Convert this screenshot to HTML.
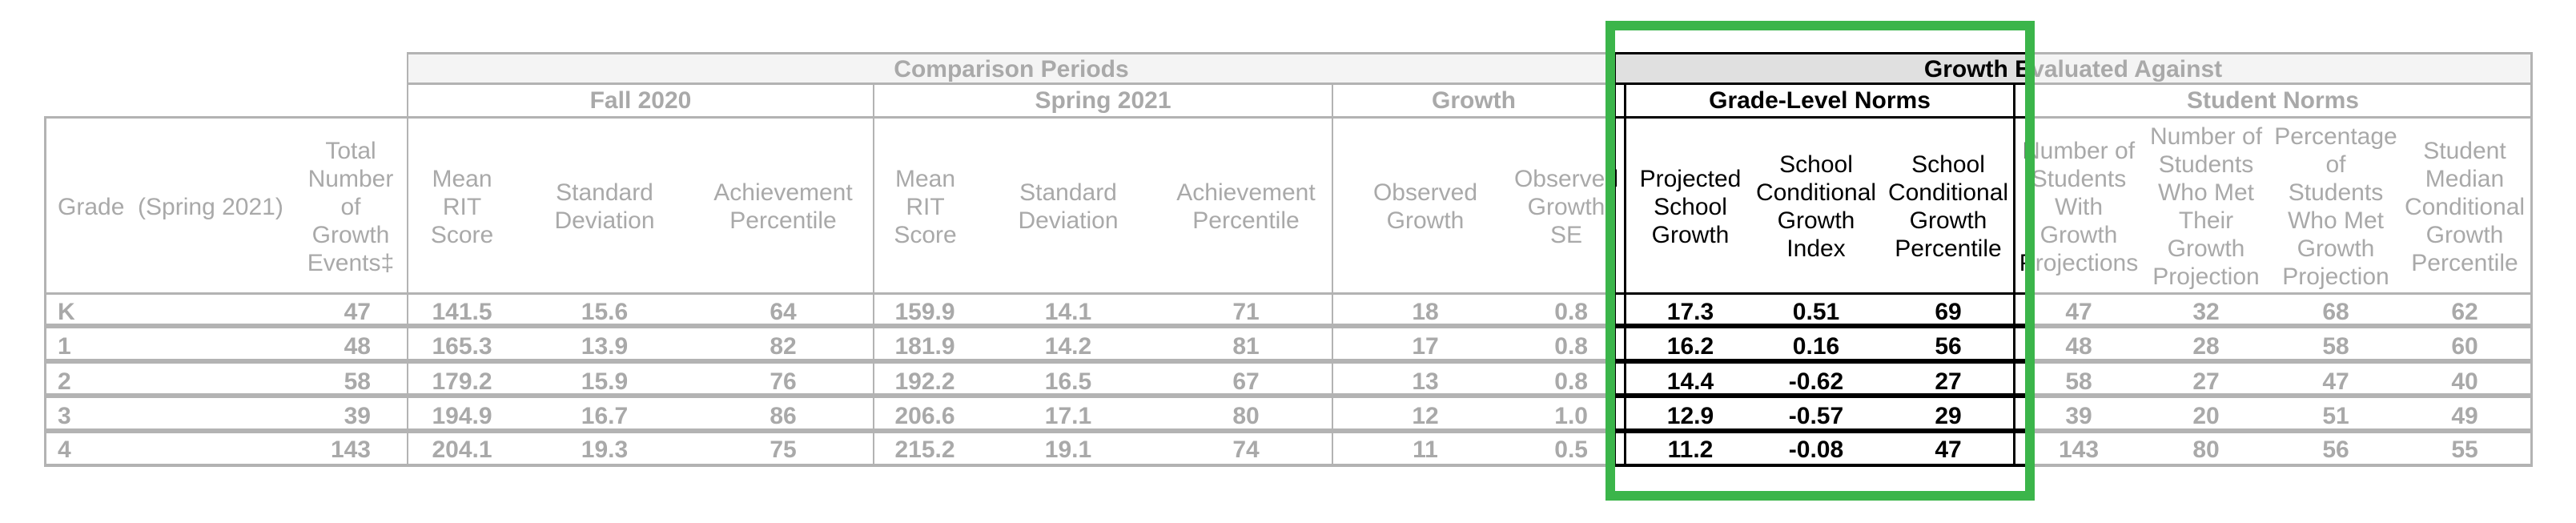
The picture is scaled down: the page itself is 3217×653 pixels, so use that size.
<!DOCTYPE html>
<html><head><meta charset="utf-8"><style>
html,body{margin:0;padding:0;background:#fff;}
#wrap{position:relative;width:3217px;height:653px;overflow:hidden;background:#fff;}
.layer{position:absolute;left:0;top:0;width:3217px;height:653px;font-family:"Liberation Sans",Arial,sans-serif;color:#a9a9a9;}
.layer.dark{color:#000;background:#fff;clip-path:inset(0 688px 0 2017px);}
.ln{position:absolute;background:#b3b3b3;}
.dark .ln{background:#000;}
.bar{position:absolute;background:#f4f4f4;}
.dark .bar{background:#e0e0e0;}
.h{position:absolute;display:flex;align-items:center;justify-content:center;text-align:center;font-size:30px;line-height:35px;white-space:nowrap;}
.g{position:absolute;display:flex;align-items:center;justify-content:center;font-size:30px;font-weight:bold;white-space:nowrap;}
.d{position:absolute;height:40px;line-height:40px;font-size:30px;font-weight:bold;width:160px;text-align:center;white-space:nowrap;}
.r1{top:370px}.r2{top:413px}.r3{top:457px}.r4{top:500px}.r5{top:542px}
.k0{left:72px;width:200px;text-align:left}
.k1{left:363px;width:100px;text-align:right}
.k2{left:497px}.k3{left:675px}.k4{left:898px}
.k5{left:1075px}.k6{left:1254px}.k7{left:1476px}
.k8{left:1700px}.k9{left:1883px;width:100px;text-align:right}
.k10{left:2031px}.k11{left:2188px}.k12{left:2353px}
.k13{left:2516px}.k14{left:2675px}.k15{left:2837px}.k16{left:2998px}
#green{position:absolute;left:2005px;top:26px;width:512px;height:575px;border:12px solid #3bb54a;}
</style></head><body>
<div id="wrap">
<div class="layer" id="base">
<div class="bar" style="left:509px;top:67px;width:2652px;height:37px"></div>
<!-- horizontal lines -->
<div class="ln" style="left:508px;top:65px;width:2654px;height:3px"></div>
<div class="ln" style="left:508px;top:103px;width:2654px;height:3px"></div>
<div class="ln" style="left:56px;top:145px;width:3106px;height:3px"></div>
<div class="ln" style="left:56px;top:365px;width:3106px;height:3px"></div>
<div class="ln" style="left:56px;top:404px;width:3106px;height:6px"></div>
<div class="ln" style="left:56px;top:448px;width:3106px;height:6px"></div>
<div class="ln" style="left:56px;top:491px;width:3106px;height:6px"></div>
<div class="ln" style="left:56px;top:535px;width:3106px;height:6px"></div>
<div class="ln" style="left:56px;top:579px;width:3106px;height:4px"></div>
<!-- vertical lines -->
<div class="ln" style="left:55px;top:145px;width:3px;height:438px"></div>
<div class="ln" style="left:508px;top:65px;width:2px;height:518px"></div>
<div class="ln" style="left:1090px;top:104px;width:2px;height:479px"></div>
<div class="ln" style="left:1663px;top:104px;width:2px;height:479px"></div>
<div class="ln" style="left:2016px;top:65px;width:2px;height:518px"></div>
<div class="ln" style="left:2028px;top:104px;width:3px;height:479px"></div>
<div class="ln" style="left:2514px;top:104px;width:3px;height:479px"></div>
<div class="ln" style="left:3160px;top:65px;width:3px;height:518px"></div>
<!-- group headers -->
<div class="g" style="left:509px;top:68px;width:1508px;height:38px">Comparison Periods</div>
<div class="g" style="left:2017px;top:68px;width:1144px;height:38px">Growth Evaluated Against</div>
<div class="g" style="left:509px;top:106px;width:582px;height:40px">Fall 2020</div>
<div class="g" style="left:1091px;top:106px;width:573px;height:40px">Spring 2021</div>
<div class="g" style="left:1664px;top:106px;width:353px;height:40px">Growth</div>
<div class="g" style="left:2030px;top:106px;width:485px;height:40px">Grade-Level Norms</div>
<div class="g" style="left:2516px;top:106px;width:645px;height:40px">Student Norms</div>
<!-- column headers -->
<div class="h" style="left:72px;top:148px;width:300px;height:220px;justify-content:flex-start">Grade&nbsp;&nbsp;(Spring 2021)</div>
<div class="h" style="left:368px;top:148px;width:140px;height:220px">Total<br>Number<br>of<br>Growth<br>Events‡</div>
<div class="h" style="left:509px;top:148px;width:136px;height:220px">Mean<br>RIT<br>Score</div>
<div class="h" style="left:645px;top:148px;width:220px;height:220px">Standard<br>Deviation</div>
<div class="h" style="left:865px;top:148px;width:226px;height:220px">Achievement<br>Percentile</div>
<div class="h" style="left:1091px;top:148px;width:129px;height:220px">Mean<br>RIT<br>Score</div>
<div class="h" style="left:1220px;top:148px;width:228px;height:220px">Standard<br>Deviation</div>
<div class="h" style="left:1448px;top:148px;width:216px;height:220px">Achievement<br>Percentile</div>
<div class="h" style="left:1664px;top:148px;width:232px;height:220px">Observed<br>Growth</div>
<div class="h" style="left:1896px;top:148px;width:120px;height:220px">Observed<br>Growth<br>SE</div>
<div class="h" style="left:2031px;top:148px;width:160px;height:220px">Projected<br>School<br>Growth</div>
<div class="h" style="left:2188px;top:148px;width:160px;height:220px">School<br>Conditional<br>Growth<br>Index</div>
<div class="h" style="left:2353px;top:148px;width:160px;height:220px">School<br>Conditional<br>Growth<br>Percentile</div>
<div class="h" style="left:2516px;top:148px;width:160px;height:220px">Number of<br>Students<br>With<br>Growth<br>Projections</div>
<div class="h" style="left:2675px;top:148px;width:160px;height:220px">Number of<br>Students<br>Who Met<br>Their<br>Growth<br>Projection</div>
<div class="h" style="left:2837px;top:148px;width:160px;height:220px">Percentage<br>of<br>Students<br>Who Met<br>Growth<br>Projection</div>
<div class="h" style="left:2998px;top:148px;width:160px;height:220px">Student<br>Median<br>Conditional<br>Growth<br>Percentile</div>
<!-- rows -->
<div class="d r1 k0">K</div><div class="d r1 k1">47</div><div class="d r1 k2">141.5</div><div class="d r1 k3">15.6</div><div class="d r1 k4">64</div><div class="d r1 k5">159.9</div><div class="d r1 k6">14.1</div><div class="d r1 k7">71</div><div class="d r1 k8">18</div><div class="d r1 k9">0.8</div><div class="d r1 k10">17.3</div><div class="d r1 k11">0.51</div><div class="d r1 k12">69</div><div class="d r1 k13">47</div><div class="d r1 k14">32</div><div class="d r1 k15">68</div><div class="d r1 k16">62</div>
<div class="d r2 k0">1</div><div class="d r2 k1">48</div><div class="d r2 k2">165.3</div><div class="d r2 k3">13.9</div><div class="d r2 k4">82</div><div class="d r2 k5">181.9</div><div class="d r2 k6">14.2</div><div class="d r2 k7">81</div><div class="d r2 k8">17</div><div class="d r2 k9">0.8</div><div class="d r2 k10">16.2</div><div class="d r2 k11">0.16</div><div class="d r2 k12">56</div><div class="d r2 k13">48</div><div class="d r2 k14">28</div><div class="d r2 k15">58</div><div class="d r2 k16">60</div>
<div class="d r3 k0">2</div><div class="d r3 k1">58</div><div class="d r3 k2">179.2</div><div class="d r3 k3">15.9</div><div class="d r3 k4">76</div><div class="d r3 k5">192.2</div><div class="d r3 k6">16.5</div><div class="d r3 k7">67</div><div class="d r3 k8">13</div><div class="d r3 k9">0.8</div><div class="d r3 k10">14.4</div><div class="d r3 k11">-0.62</div><div class="d r3 k12">27</div><div class="d r3 k13">58</div><div class="d r3 k14">27</div><div class="d r3 k15">47</div><div class="d r3 k16">40</div>
<div class="d r4 k0">3</div><div class="d r4 k1">39</div><div class="d r4 k2">194.9</div><div class="d r4 k3">16.7</div><div class="d r4 k4">86</div><div class="d r4 k5">206.6</div><div class="d r4 k6">17.1</div><div class="d r4 k7">80</div><div class="d r4 k8">12</div><div class="d r4 k9">1.0</div><div class="d r4 k10">12.9</div><div class="d r4 k11">-0.57</div><div class="d r4 k12">29</div><div class="d r4 k13">39</div><div class="d r4 k14">20</div><div class="d r4 k15">51</div><div class="d r4 k16">49</div>
<div class="d r5 k0">4</div><div class="d r5 k1">143</div><div class="d r5 k2">204.1</div><div class="d r5 k3">19.3</div><div class="d r5 k4">75</div><div class="d r5 k5">215.2</div><div class="d r5 k6">19.1</div><div class="d r5 k7">74</div><div class="d r5 k8">11</div><div class="d r5 k9">0.5</div><div class="d r5 k10">11.2</div><div class="d r5 k11">-0.08</div><div class="d r5 k12">47</div><div class="d r5 k13">143</div><div class="d r5 k14">80</div><div class="d r5 k15">56</div><div class="d r5 k16">55</div>
</div>
<div id="green"></div>
</div>
<script>
(function(){
var b=document.getElementById('base');
var c=b.cloneNode(true);
c.id='dark';
c.className='layer dark';
b.parentNode.insertBefore(c,document.getElementById('green'));
})();
</script>
</body></html>
